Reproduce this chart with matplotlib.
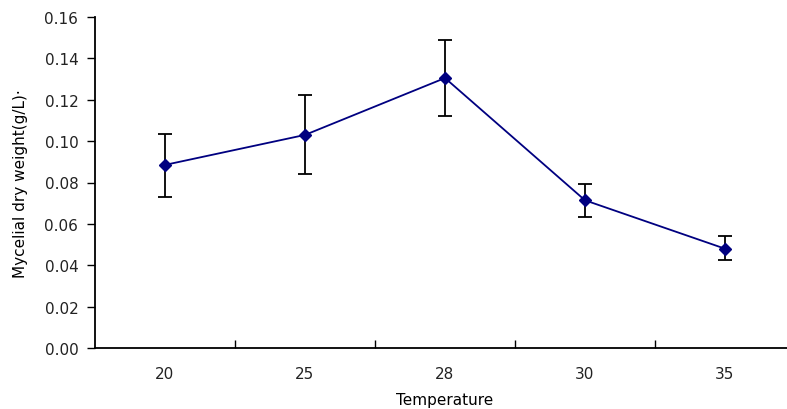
import matplotlib.pyplot as plt
import numpy as np

temps = ["20", "25", "28", "30", "35"]
weight = [0.0885, 0.103, 0.1305, 0.0714, 0.048]
err_low = [0.0730, 0.0841, 0.1121, 0.0632, 0.0425]
err_high = [0.1034, 0.1223, 0.1489, 0.0794, 0.0543]

plt.rcParams['font.family'] = ['DejaVu Sans']
plt.rcParams['text.color'] = '#222222'
plt.rcParams['xtick.labelcolor'] = '#222222'
plt.rcParams['ytick.labelcolor'] = '#222222'

fig = plt.figure(figsize=(7.87, 4.10), dpi=100)
ax = fig.add_axes([95 / 787, 1 - 349 / 410, 700 / 787, 331 / 410])

x = np.arange(len(temps))
w = np.array(weight)
yerr = [w - np.array(err_low), np.array(err_high) - w]

ax.errorbar(x, w, yerr=yerr, fmt='none', ecolor='black', elinewidth=1.3,
            capsize=5, capthick=1.3, zorder=2)
ax.plot(x, w, color='#000080', lw=1.3, marker='D', markersize=6, zorder=3)

ax.set_xlim(-0.5, len(temps) - 0.5)
ax.set_ylim(0, 0.16)
ax.set_yticks(np.arange(0, 0.161, 0.02))
ax.set_yticklabels([f"{v:.2f}" for v in np.arange(0, 0.161, 0.02)])
ax.set_xticks(x)
ax.set_xticklabels(temps)
ax.set_xticks(np.arange(0.5, len(temps) - 0.5, 1), minor=True)
ax.tick_params(axis='x', which='major', length=0, pad=13, labelsize=11)
ax.tick_params(axis='x', which='minor', direction='in', length=6, width=1)
ax.tick_params(axis='y', direction='out', length=6, width=1, labelsize=11, pad=6)

for side in ['top', 'right']:
    ax.spines[side].set_visible(False)
for side in ['left', 'bottom']:
    ax.spines[side].set_linewidth(1.3)

ax.set_xlabel("Temperature", fontsize=11, labelpad=8)
ax.set_ylabel("Mycelial dry weight(g/L)·", fontsize=11, labelpad=12)

fig.savefig("out.png", dpi=100)
